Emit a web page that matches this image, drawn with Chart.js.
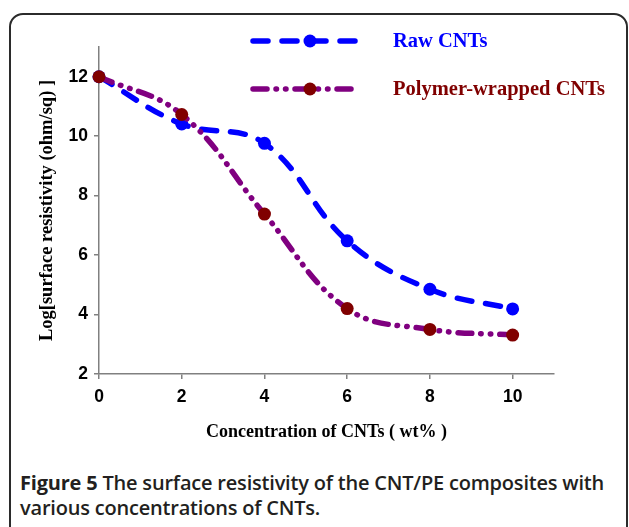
<!DOCTYPE html>
<html>
<head>
  <meta charset="UTF-8">
  <title>Figure 5</title>
  <script src="https://cdn.jsdelivr.net/npm/chart.js"></script>
  <style>
    body { margin: 0; width: 629px; height: 527px; overflow: hidden; background: #fff; position: relative; }
    .frame { position: absolute; left: 9px; top: 13px; width: 615px; height: 560px; border: 2px solid #2b2b2b; border-radius: 14px; }
    #chart { position: absolute; left: 0; top: 0; }
    .caption { position: absolute; left: 20px; top: 470px; font-family: "Open Sans", sans-serif; font-size: 20px; font-weight: 600; line-height: 25px; color: #231f20; white-space: nowrap; letter-spacing: -0.2px; }
    .caption b { font-weight: 700; }
  </style>
</head>
<body>
  <div class="frame"></div>
  <canvas id="chart" width="629" height="450"></canvas>
  <div class="caption"><b>Figure 5</b> The surface resistivity of the CNT/PE composites with<br>various concentrations of CNTs.</div>
  <script>
    // concentration of CNTs (wt%)
    const conc = [0, 2, 4, 6, 8, 10];
    // log surface resistivity
    const rawCNTs = [12, 10.41, 9.76, 6.48, 4.85, 4.19];
    const wrappedCNTs = [12, 10.73, 7.38, 4.2, 3.5, 3.31];
    const xTicks = [0, 2, 4, 6, 8, 10];
    const yTicks = [2, 4, 6, 8, 10, 12];

    const pts = ys => conc.map((x, i) => ({ x: x, y: ys[i] }));

    // legend drawn by hand: line sample + marker + coloured label
    const legendPlugin = {
      id: 'sampleLegend',
      afterDraw(chart) {
        const ctx = chart.ctx;
        const rows = [{ ds: 0, y: 41 }, { ds: 1, y: 89 }];
        rows.forEach(r => {
          const d = chart.data.datasets[r.ds];
          ctx.save();
          ctx.strokeStyle = d.borderColor;
          ctx.lineWidth = d.borderWidth;
          ctx.lineCap = 'round';
          ctx.setLineDash(d.borderDash);
          ctx.beginPath();
          ctx.moveTo(253, r.y);
          ctx.lineTo(357, r.y);
          ctx.stroke();
          ctx.setLineDash([]);
          ctx.fillStyle = d.pointBackgroundColor;
          ctx.beginPath();
          ctx.arc(310, r.y, d.pointRadius, 0, Math.PI * 2);
          ctx.fill();
          ctx.font = 'bold 20.5px "Liberation Serif"';
          ctx.fillStyle = d.labelColor;
          ctx.textBaseline = 'middle';
          ctx.fillText(d.label, 393, r.y + 1);
          ctx.restore();
        });
      }
    };

    const tickFont = { family: 'Liberation Sans', size: 17.5, weight: 'bold' };

    new Chart(document.getElementById('chart'), {
      type: 'line',
      data: {
        datasets: [
          {
            label: 'Raw CNTs', data: pts(rawCNTs), order: 1,
            borderColor: '#0000ff', borderWidth: 5.5, borderDash: [15, 14], borderCapStyle: 'round',
            pointRadius: 6.5, pointBackgroundColor: '#0000ff', pointBorderWidth: 0,
            tension: 0.4, labelColor: '#0000ff', clip: false
          },
          {
            label: 'Polymer-wrapped CNTs', data: pts(wrappedCNTs), order: 0,
            borderColor: '#800080', borderWidth: 5.5, borderDash: [14, 9, 0.5, 9, 0.5, 9], borderCapStyle: 'round',
            pointRadius: 6.5, pointBackgroundColor: '#800000', pointBorderWidth: 0,
            tension: 0.4, labelColor: '#800000', clip: false
          }
        ]
      },
      options: {
        responsive: false,
        animation: false,
        layout: { padding: { left: 0, top: 47, right: 75, bottom: 0 } },
        plugins: { legend: { display: false }, tooltip: { enabled: false } },
        scales: {
          x: {
            type: 'linear', min: 0, max: 11,
            afterBuildTicks: s => { s.ticks = xTicks.map(v => ({ value: v })); },
            afterFit: s => { s.height = 76; },
            grid: { drawOnChartArea: false, color: '#808080', tickLength: 5, lineWidth: 1.5 },
            border: { color: '#808080', width: 1.5 },
            ticks: { font: tickFont, color: '#000', padding: 8, maxRotation: 0 },
            title: { display: true, text: 'Concentration of CNTs ( wt% )', font: { family: 'Liberation Serif', size: 18, weight: 'bold' }, color: '#000', padding: { top: 0, bottom: 7 } }
          },
          y: {
            type: 'linear', min: 2, max: 13,
            afterBuildTicks: s => { s.ticks = yTicks.map(v => ({ value: v })); },
            afterFit: s => { s.width = 99; },
            grid: { drawOnChartArea: false, color: '#808080', tickLength: 5, lineWidth: 1.5 },
            border: { color: '#808080', width: 1.5 },
            ticks: { font: tickFont, color: '#000', padding: 6 },
            title: { display: true, text: 'Log[surface resistivity (ohm/sq) ]', font: { family: 'Liberation Serif', size: 18.5, weight: 'bold' }, color: '#000', padding: { top: 36, bottom: 0 } }
          }
        }
      },
      plugins: [legendPlugin]
    });
  </script>
</body>
</html>
